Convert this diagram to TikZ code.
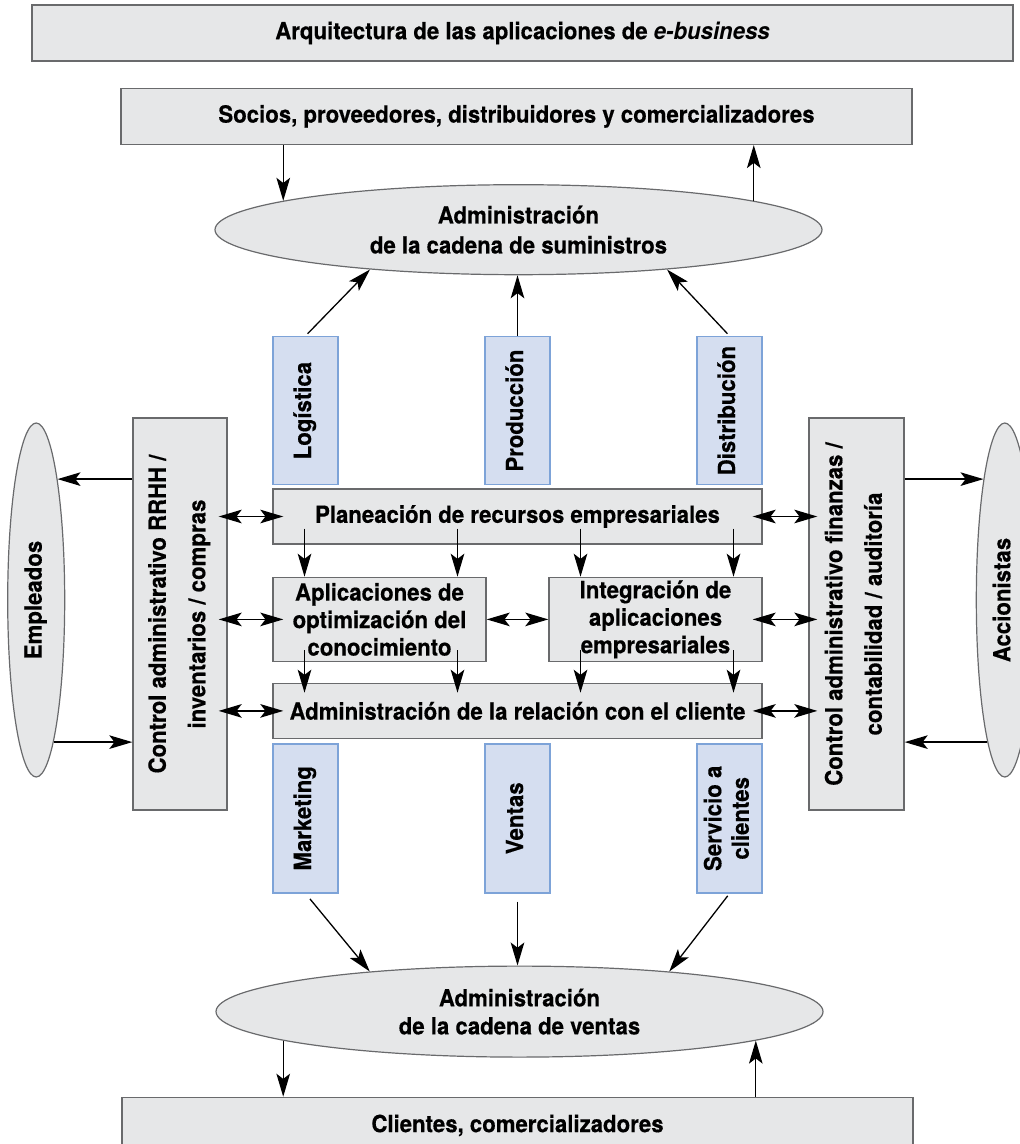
\documentclass[tikz,border=0pt]{standalone}
\usepackage{fontspec}
\setmainfont{TeX Gyre Heros}[FakeStretch=0.94, BoldFeatures={FakeBold=0.4}]
\usepackage{tikz}
\usetikzlibrary{shapes,arrows.meta,positioning,calc}
\definecolor{boxgray}{RGB}{230,231,232}
\definecolor{linegray}{RGB}{105,106,108}
\definecolor{lightblue}{RGB}{213,222,240}
\definecolor{blueline}{RGB}{125,163,216}
\newcommand{\vtext}[1]{\rotatebox{90}{\begin{tabular}{@{}c@{}}#1\end{tabular}}}

\begin{document}
\begin{tikzpicture}[
    x=0.5pt, y=-0.5pt,
    font=\fontsize{11.8}{13.75}\selectfont\bfseries,
    tipb/.tip={Stealth[length=11.5pt,width=6.8pt,inset=2.6pt]},
    box/.style={rectangle, draw=linegray, fill=boxgray, line width=0.7pt, inner sep=1pt, align=center},
    vbox/.style={rectangle, draw=blueline, fill=lightblue, line width=0.7pt, inner sep=0pt, minimum width=32.5pt, minimum height=74pt},
    oval/.style={ellipse, draw=linegray, fill=boxgray, line width=0.6pt, inner sep=0pt, align=center},
    conn/.style={line width=0.65pt, -tipb},
    dconn/.style={line width=0.65pt, tipb-tipb}
]
    \useasboundingbox (0,0) rectangle (1020,1144);

    \node[box, minimum width=490.5pt, minimum height=28pt] (title) at (522.5,33) {Arquitectura de las aplicaciones de \textit{e-business}};
    \node[box, minimum width=395.5pt, minimum height=28pt, below=13pt of title, xshift=-3pt] (socios) {Socios, proveedores, distribuidores y comercializadores};
    \node[oval, minimum width=303.5pt, minimum height=45pt, below=19.5pt of socios, xshift=1pt] (supply) {Administración\\[1.25pt]de la cadena de suministros};

    \node[box, minimum width=244.5pt, minimum height=27.5pt] (erp) at (517.5,516.5) {Planeación de recursos empresariales};
    \node[vbox, above=1.5pt of erp.north west, anchor=south west] (logi) {\vtext{Logística}};
    \node[vbox, above=1.5pt of erp] (prod) {\vtext{Producción}};
    \node[vbox, above=1.5pt of erp.north east, anchor=south east] (dist) {\vtext{Distribución}};

    \node[box, minimum width=106.5pt, minimum height=42pt, below=16pt of erp.south west, anchor=north west] (kmapp) {Aplicaciones de\\optimización del\\conocimiento};
    \node[box, minimum width=106.5pt, minimum height=42pt, below=16pt of erp.south east, anchor=north east] (eai) {Integración de\\aplicaciones\\empresariales};
    \node[box, minimum width=244.5pt, minimum height=27.5pt, below=69pt of erp] (crm) {Administración de la relación con el cliente};

    \node[vbox, minimum height=74.5pt, below=2pt of crm.south west, anchor=north west] (mkt) {\vtext{Marketing}};
    \node[vbox, minimum height=74.5pt, below=2pt of crm] (ventas) {\vtext{Ventas}};
    \node[vbox, minimum height=74.5pt, below=2pt of crm.south east, anchor=north east] (servicio) {\vtext{Servicio a\\clientes}};

    \node[oval, minimum width=303.5pt, minimum height=45.5pt, below=36pt of ventas, xshift=1pt] (sales) {Administración\\[0.25pt]de la cadena de ventas};
    \node[box, minimum width=395.5pt, minimum height=28pt, below=19.5pt of sales, xshift=-1pt] (clientes) {Clientes, comercializadores};

    \node[box, minimum width=47pt, minimum height=196pt] (rrhh) at (180,614) {\vtext{Control administrativo RRHH /\\[6pt]inventarios / compras}};
    \node[box, minimum width=47.5pt, minimum height=196pt] (fin) at (856.5,614) {\vtext{Control administrativo finanzas /\\[6pt]contabilidad / auditoría}};
    \node[oval, minimum width=28.5pt, minimum height=177pt, left=33.5pt of rrhh, yshift=7pt] (emp) {\vtext{Empleados}};
    \node[oval, minimum width=28.5pt, minimum height=177pt, right=35.5pt of fin, yshift=7pt] (acc) {\vtext{Accionistas}};

    % cadena de suministros
    \draw[conn] (socios.south -| supply.173) -- (supply.173);
    \draw[conn] (supply.7) -- (supply.7 |- socios.south);
    \draw[conn, shorten <=1.5pt] (logi.north) -- (supply.195);
    \draw[conn] (prod.north) -- (prod.north |- supply.south);
    \draw[conn, shorten <=1.5pt] (dist.north) -- (supply.345);

    % cadena de ventas
    \draw[conn, shorten <=3.5pt] (mkt.south) -- (sales.165);
    \draw[conn, shorten <=4pt] (ventas.south) -- (ventas.south |- sales.north);
    \draw[conn, shorten <=1.5pt] (servicio.south) -- (sales.15);
    \draw[conn] (sales.187) -- (sales.187 |- clientes.north);
    \draw[conn] (clientes.north -| sales.353) -- (sales.353);

    % empleados y accionistas
    \draw[conn] (rrhh.west |- emp.80) -- (emp.80);
    \draw[conn] (emp.277) -- (emp.277 -| rrhh.west);
    \draw[conn] (fin.east |- acc.100) -- (acc.100);
    \draw[conn] (acc.263) -- (acc.263 -| fin.east);

    \draw[dconn, shorten <=-4.5pt, shorten >=-5.5pt] (rrhh.east |- erp.west) -- (erp.west);
    \draw[dconn, shorten <=-4.5pt, shorten >=-5.5pt] (rrhh.east |- kmapp.west) -- (kmapp.west);
    \draw[dconn, shorten <=-4.5pt, shorten >=-5.5pt] (rrhh.east |- crm.west) -- (crm.west);
    \draw[dconn, shorten <=-5pt, shorten >=-4.5pt] (erp.east) -- (erp.east -| fin.west);
    \draw[dconn, shorten <=-5pt, shorten >=-4.5pt] (eai.east) -- (eai.east -| fin.west);
    \draw[dconn, shorten <=-5pt, shorten >=-4.5pt] (crm.east) -- (crm.east -| fin.west);
    \draw[dconn] (kmapp.east) -- (eai.west);

    % flujo interno
    \draw[conn] ([xshift=-37.5pt, yshift=8pt]erp.south -| kmapp.north) -- ([xshift=-37.5pt]kmapp.north);
    \draw[conn] ([xshift=39pt, yshift=8pt]erp.south -| kmapp.north) -- ([xshift=39pt]kmapp.north);
    \draw[conn] ([xshift=-37.5pt, yshift=8pt]erp.south -| eai.north) -- ([xshift=-37.5pt]eai.north);
    \draw[conn] ([xshift=39pt, yshift=8pt]erp.south -| eai.north) -- ([xshift=39pt]eai.north);
    \draw[conn] ([xshift=-37.5pt, yshift=6pt]kmapp.south) -- ([xshift=-37.5pt, yshift=-5pt]crm.north -| kmapp.south);
    \draw[conn] ([xshift=39pt, yshift=6pt]kmapp.south) -- ([xshift=39pt, yshift=-5pt]crm.north -| kmapp.south);
    \draw[conn] ([xshift=-37.5pt, yshift=6pt]eai.south) -- ([xshift=-37.5pt, yshift=-5pt]crm.north -| eai.south);
    \draw[conn] ([xshift=39pt, yshift=6pt]eai.south) -- ([xshift=39pt, yshift=-5pt]crm.north -| eai.south);
\end{tikzpicture}
\end{document}
